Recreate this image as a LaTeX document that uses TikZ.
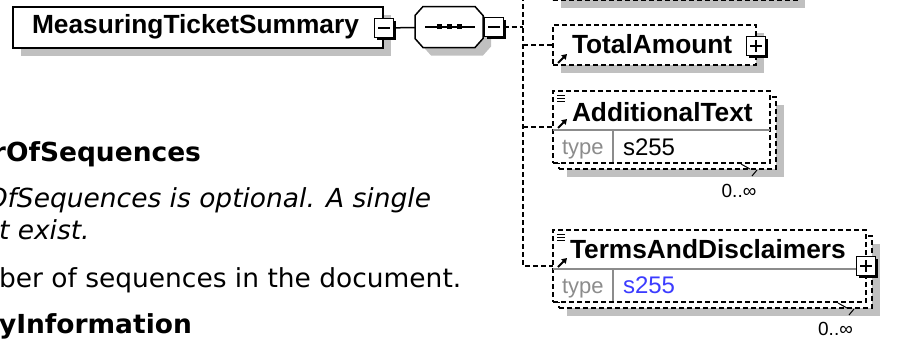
\documentclass[tikz,border=0pt]{standalone}
\usepackage{fontspec}
\setmainfont{Liberation Sans}
\newfontfamily\docfont[FakeStretch=1.01]{DejaVu Sans}
\usetikzlibrary{shadows,arrows.meta}
\definecolor{shadowgray}{HTML}{C0C0C0}
\definecolor{typegray}{HTML}{8C8C8C}
\definecolor{linkblue}{HTML}{3C3CFF}

\begin{document}
\begin{tikzpicture}[x=1pt, y=-1pt, line width=1.5pt,
        every node/.style={inner sep=0pt, outer sep=0pt},
        shadowed/.style={general shadow={fill=shadowgray, shadow xshift=8pt, shadow yshift=-8pt}},
        elem/.style={draw, fill=white, shadowed, anchor=north west},
        optbox/.style={draw, fill=white, anchor=north west, dash pattern=on 5pt off 3pt},
        optelem/.style={optbox, shadowed},
        conn/.style={dash pattern=on 5pt off 3pt},
        divider/.style={line width=1.2pt, typegray},
        refarrow/.style={line width=2pt, -{Triangle[length=5pt,width=6pt]}},
        minusbox/.style={draw, fill=white, minimum size=19pt, general shadow={fill=black, shadow xshift=2pt, shadow yshift=-2pt},
            path picture={\draw[line width=1.5pt] ([xshift=3.5pt]path picture bounding box.west) -- ([xshift=-3.5pt]path picture bounding box.east);}},
        plusbox/.style={minusbox, path picture={\draw[line width=1.5pt] ([xshift=3.5pt]path picture bounding box.west) -- ([xshift=-3.5pt]path picture bounding box.east)
            ([yshift=-3.5pt]path picture bounding box.north) -- ([yshift=3.5pt]path picture bounding box.south);}},
        elemlbl/.style={anchor=base west, font=\bfseries\fontsize{26.3}{30}\selectfont},
        typelbl/.style={anchor=base west, text=typegray, font=\fontsize{22}{26}\selectfont},
        typeval/.style={anchor=base west, font=\fontsize{24}{28}\selectfont},
        occlbl/.style={anchor=base, font=\fontsize{19}{22}\selectfont},
        doctext/.style={anchor=base east, font=\docfont\fontsize{26.2}{30}\selectfont},
        docbold/.style={doctext, font=\docfont\bfseries\fontsize{26.2}{30}\selectfont},
        docital/.style={doctext, font=\docfont\itshape\fontsize{26.2}{30}\selectfont}]
    \useasboundingbox (0,0) rectangle (922,338);
    \clip (0,0) rectangle (922,338);

    % documentation text behind the diagram
    \node[docbold] (docname) at (201,161) {rOfSequences};
    \node[docital] (dococc) at (431,207) {OfSequences is optional. A single};
    \node[docital, anchor=base west] (dococctwo) at (-1,239) {t exist.};
    \node[doctext, anchor=base west] (docdesc) at (-1,287) {ber of sequences in the document.};
    \node[docbold, anchor=base west] (docnext) at (-1,333) {yInformation};

    % root element
    \node[elem, minimum width=370pt, minimum height=41pt] (summary) at (13,7) {};
    \node[elemlbl] (summarylbl) at (32,33) {MeasuringTicketSummary};
    \node[minusbox] (summaryexp) at (384,28) {};

    % sequence
    \node[minimum width=68pt, minimum height=41pt] (seq) at (449,27) {};
    \draw[fill=white, shadowed] ([xshift=8pt]seq.north west) -- ([xshift=-8pt]seq.north east) -- ([yshift=-9pt]seq.north east)
        -- ([yshift=9pt]seq.south east) -- ([xshift=-8pt]seq.south east) -- ([xshift=8pt]seq.south west)
        -- ([yshift=9pt]seq.south west) -- ([yshift=-9pt]seq.north west) -- cycle;
    \draw[line width=1.2pt] ([xshift=10pt]seq.west) -- ([xshift=-8pt]seq.east);
    \foreach \x in {439.5,449.5,459.5}
        \fill (\x-2.3,24) rectangle (\x+2.3,28.5);
    \node[minusbox] (seqexp) at (494,27) {};
    \draw (summaryexp) -- (seq);

    % children
    \node[optelem, anchor=south west, minimum width=244pt, minimum height=40pt] (prevelem) at (553,0) {};

    \node[optelem, minimum width=203pt, minimum height=40pt] (total) at (553,25) {};
    \node[elemlbl] (totallbl) at (572,53) {TotalAmount};
    \node[plusbox] (totalexp) at (756,46) {};
    \draw[refarrow] (558,63) -- (567,54);

    \node[optelem, minimum width=217pt, minimum height=72pt] (addtextback) at (559,97) {};
    \node[optbox, minimum width=217pt, minimum height=72pt] (addtext) at (553,91) {};
    \draw[divider] (553,130) -- (770,130) (613,130) -- (613,162);
    \node[elemlbl] (addtextlbl) at (572,121) {AdditionalText};
    \node[typelbl] (addtexttype) at (562,154) {type};
    \node[typeval] (addtextval) at (623,155) {s255};
    \node[occlbl] (addtextocc) at (739,197) {0..∞};
    \foreach \yy in {95,98,101}
        \draw[line width=1pt] (557,\yy) -- (565,\yy);
    \draw[refarrow] (558,128) -- (567,119);
    \draw[line width=1pt] (741,164) -- (750,169) (757,170) -- (752,176);

    \node[optelem, minimum width=313pt, minimum height=72pt] (termsback) at (559,236) {};
    \node[optbox, minimum width=313pt, minimum height=72pt] (terms) at (553,230) {};
    \draw[divider] (553,269) -- (866,269) (613,269) -- (613,301);
    \node[elemlbl] (termslbl) at (570,258) {TermsAndDisclaimers};
    \node[typelbl] (termstype) at (562,293) {type};
    \node[typeval, text=linkblue] (termsval) at (623,293) {s255};
    \node[plusbox] (termsexp) at (866,266) {};
    \node[occlbl] (termsocc) at (835.5,335) {0..∞};
    \foreach \yy in {234,237,240}
        \draw[line width=1pt] (557,\yy) -- (565,\yy);
    \draw[refarrow] (558,267) -- (567,258);
    \draw[line width=1pt] (838,303) -- (847,308) (854,309) -- (849,315);

    % connectors
    \coordinate (trunk) at (523,-4);
    \draw[conn] (seqexp) -- (trunk |- seqexp);
    \draw[conn] (trunk) |- (terms.west);
    \draw[conn] (trunk |- total.west) -- (total.west);
    \draw[conn] (trunk |- addtext.west) -- (addtext.west);
\end{tikzpicture}
\end{document}
